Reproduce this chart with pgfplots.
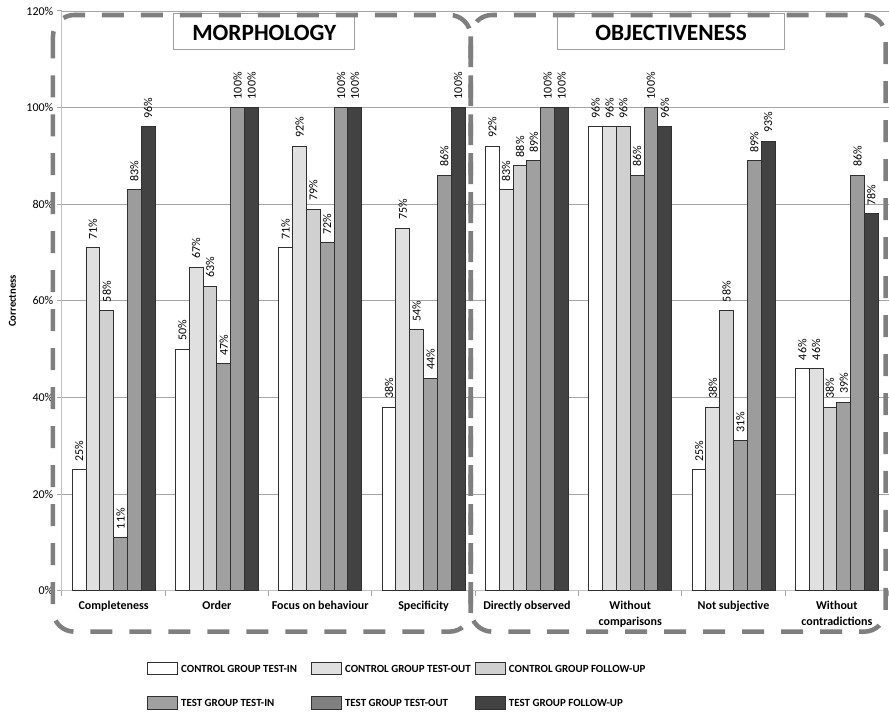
\documentclass[border=0pt]{standalone}
\usepackage{pgfplots}
\pgfplotsset{compat=1.18}
\usepackage{pgfplotstable}
\usepackage{fontspec}
\setmainfont{Carlito}

\definecolor{barA}{HTML}{FFFFFF}
\definecolor{barB}{HTML}{E0E0E0}
\definecolor{barC}{HTML}{D0D0D0}
\definecolor{barD}{HTML}{A0A0A0}
\definecolor{barE}{HTML}{9C9C9C}
\definecolor{barF}{HTML}{424242}
\definecolor{legE}{HTML}{808080}
\definecolor{edge}{HTML}{303030}
\definecolor{gridc}{HTML}{A6A6A6}
\definecolor{axisc}{HTML}{C4C4C4}
\definecolor{dashc}{HTML}{7F7F7F}
\definecolor{boxc}{HTML}{A0A0A0}

% correctness in percent, one row per criterion
\pgfplotstableread{
x  cgin cgout cgfu tgin tgout tgfu
0  25   71    58   11   83    96
1  50   67    63   47   100   100
2  71   92    79   72   100   100
3  38   75    54   44   86    100
4  92   83    88   89   100   100
5  96   96    96   86   100   96
6  25   38    58   31   89    93
7  46   46    38   39   86    78
}\scores

\begin{document}
\begin{tikzpicture}
% page = 889 x 714 px, 1px = 0.75pt, axis origin at px (62,591)
\begin{scope}[x=0.75pt,y=-0.75pt,shift={(-46.5pt,443.25pt)}]
\useasboundingbox (0,0) rectangle (889,714);
\end{scope}

\begin{axis}[
  scale only axis,
  width=620.25pt, height=435pt,
  ybar=0pt, bar width=10.375pt,
  xmin=-0.5, xmax=7.5,
  ymin=0, ymax=120,
  clip=false,
  /pgf/number format/assume math mode=true,
  axis x line*=bottom, axis y line*=left,
  axis line style={axisc, line width=0.75pt},
  xtick={0,...,7},
  xticklabels={Completeness, Order, Focus on behaviour, Specificity,
    Directly observed, {Without\\comparisons}, Not subjective,
    {Without\\contradictions}},
  minor xtick={-0.5,0.5,...,7.5},
  minor ytick={0,20,...,120},
  major tick length=0pt,
  minor tick length=3.75pt,
  tick align=outside,
  tick style={gridc, line width=0.75pt},
  xticklabel style={font=\fontsize{9}{12}\selectfont\bfseries, align=center, yshift=-4pt},
  ytick={0,20,...,120},
  yticklabel={\pgfmathprintnumber{\tick}\%},
  yticklabel style={font=\fontsize{9}{10}\selectfont, xshift=-3pt},
  ymajorgrids,
  grid style={gridc, line width=0.6pt},
  ylabel={Correctness},
  every axis y label/.style={at={(rel axis cs:0,0.5)}, rotate=90, anchor=center,
    yshift=37.1pt, font=\fontsize{8}{10}\selectfont\bfseries},
  every axis plot/.append style={draw=edge, line width=0.7pt},
  nodes near coords={\pgfmathprintnumber{\pgfplotspointmeta}\%},
  every node near coord/.append style={font=\fontsize{9}{10}\selectfont, black,
    rotate=90, anchor=west, inner sep=0pt, inner xsep=6pt},
]
\addplot[fill=barA] table[x=x, y=cgin] {\scores};
\addplot[fill=barB] table[x=x, y=cgout] {\scores};
\addplot[fill=barC] table[x=x, y=cgfu] {\scores};
\addplot[fill=barD] table[x=x, y=tgin] {\scores};
\addplot[fill=barE] table[x=x, y=tgout] {\scores};
\addplot[fill=barF] table[x=x, y=tgfu] {\scores};
\end{axis}

\begin{scope}[x=0.75pt,y=-0.75pt,shift={(-46.5pt,443.25pt)}]
% section titles
\draw[boxc, fill=white, line width=0.75pt] (174,14) rectangle (355,50);
\node[font=\fontsize{17.5}{20}\selectfont\bfseries] at (264.5,32.5) {MORPHOLOGY};
\draw[boxc, fill=white, line width=0.75pt] (558,14) rectangle (785,50);
\node[font=\fontsize{17.5}{20}\selectfont\bfseries] at (671.5,32.5) {OBJECTIVENESS};
% dashed group frames
\draw[dashc, line width=3.4pt, dash pattern=on 16.5pt off 12.75pt, rounded corners=16pt]
  (53,15) rectangle (471,632);
\draw[dashc, line width=3.4pt, dash pattern=on 16.5pt off 12.75pt, rounded corners=16pt]
  (471,15) rectangle (886,632);
% legend
\tikzset{sw/.style={draw=edge, line width=0.75pt},
         lt/.style={anchor=west, inner sep=0pt, font=\fontsize{8.2}{9}\selectfont\bfseries}}
\draw[sw, fill=barA] (148,663) rectangle (178,675);
\node[lt] at (181,669) {CONTROL GROUP TEST-IN};
\draw[sw, fill=barB] (312,663) rectangle (342,675);
\node[lt] at (345,669) {CONTROL GROUP TEST-OUT};
\draw[sw, fill=barC] (476,663) rectangle (506,675);
\node[lt] at (509,669) {CONTROL GROUP FOLLOW-UP};
\draw[sw, fill=barD] (148,697) rectangle (178,710);
\node[lt] at (181,703) {TEST GROUP TEST-IN};
\draw[sw, fill=legE] (312,697) rectangle (342,710);
\node[lt] at (345,703) {TEST GROUP TEST-OUT};
\draw[sw, fill=barF] (476,697) rectangle (506,710);
\node[lt] at (509,703) {TEST GROUP FOLLOW-UP};
\end{scope}
\end{tikzpicture}
\end{document}
